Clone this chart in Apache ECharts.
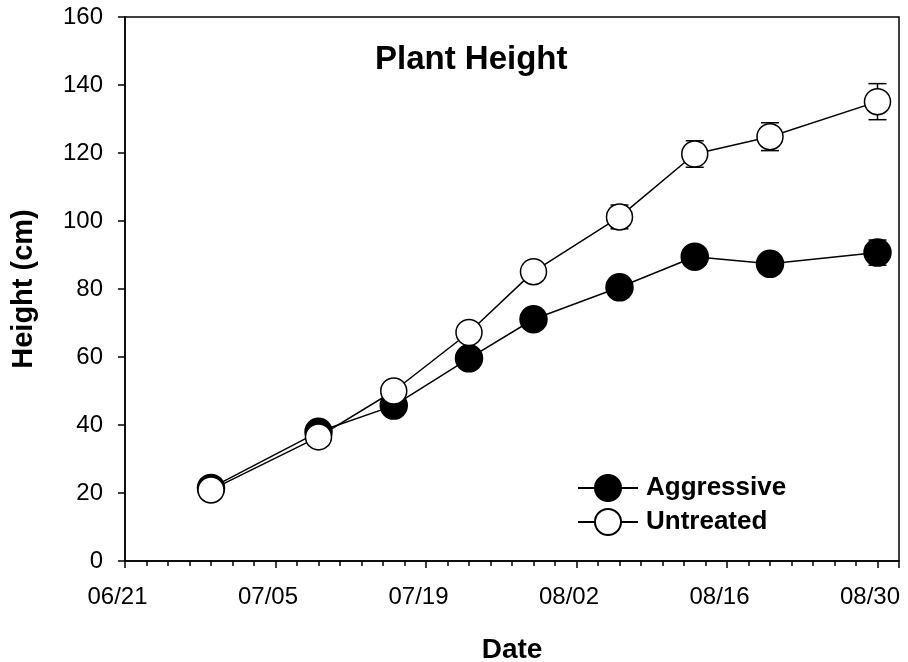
<!DOCTYPE html>
<html>
<head>
<meta charset="utf-8">
<script src="https://cdn.jsdelivr.net/npm/echarts@6/dist/echarts.min.js"></script>
<style>html,body{margin:0;padding:0;background:#fff;}#c{width:908px;height:662px;}</style>
</head>
<body>
<div id="c"></div>
<script>
const startDate = '06/21';
const tickLabels = ['06/21', '07/05', '07/19', '08/02', '08/16', '08/30'];
const dates = ['06/29', '07/09', '07/16', '07/23', '07/29', '08/06', '08/13', '08/20', '08/30'];
const aggressive = [21.5, 38.0, 45.7, 59.6, 71.1, 80.5, 89.5, 87.4, 90.7];
const aggressiveErr = [0.8, 1.0, 1.2, 1.5, 1.5, 1.8, 2.5, 2.0, 3.7];
const untreated = [20.9, 36.5, 50.0, 67.2, 85.1, 101.2, 119.7, 124.8, 135.1];
const untreatedErr = [0.6, 1.0, 1.5, 2.0, 2.5, 3.5, 3.9, 4.1, 5.3];
const yTicks = [0, 20, 40, 60, 80, 100, 120, 140, 160];

function dayOffset(md) {
  const [m, d] = md.split('/').map(Number);
  const [m0, d0] = startDate.split('/').map(Number);
  return (Date.UTC(2001, m - 1, d) - Date.UTC(2001, m0 - 1, d0)) / 86400000;
}
const xs = dates.map(dayOffset);
const aggData = xs.map((x, i) => [x, aggressive[i]]);
const untData = xs.map((x, i) => [x, untreated[i]]);
const aggErrData = xs.map((x, i) => [x, aggressive[i] - aggressiveErr[i], aggressive[i] + aggressiveErr[i]]);
const untErrData = xs.map((x, i) => [x, untreated[i] - untreatedErr[i], untreated[i] + untreatedErr[i]]);

function errRender(params, api) {
  const x = api.value(0);
  const lo = api.coord([x, api.value(1)]);
  const hi = api.coord([x, api.value(2)]);
  const w = 9;
  const st = { stroke: '#000', lineWidth: 1.5, fill: null };
  return {
    type: 'group',
    children: [
      { type: 'line', shape: { x1: lo[0], y1: lo[1], x2: hi[0], y2: hi[1] }, style: st },
      { type: 'line', shape: { x1: lo[0] - w, y1: lo[1], x2: lo[0] + w, y2: lo[1] }, style: st },
      { type: 'line', shape: { x1: hi[0] - w, y1: hi[1], x2: hi[0] + w, y2: hi[1] }, style: st }
    ]
  };
}

const chart = echarts.init(document.getElementById('c'), null, { renderer: 'canvas' });
const font = 'Liberation Sans, Arial, sans-serif';
chart.setOption({
  animation: false,
  backgroundColor: '#fff',
  textStyle: { fontFamily: font },
  title: {
    text: 'Plant Height',
    left: 370, top: 38,
    textStyle: { fontFamily: font, fontWeight: 'bold', fontSize: 33, color: '#000' }
  },
  legend: {
    left: 572, top: 469,
    orient: 'vertical',
    itemWidth: 60, itemHeight: 32.5, itemGap: 6,
    data: ['Aggressive', 'Untreated'],
    textStyle: { fontFamily: font, fontWeight: 'bold', fontSize: 26, color: '#000', padding: [0, 0, 0, 3] }
  },
  grid: {
    left: 125, right: 9, top: 17, bottom: 101,
    containLabel: false, outerBoundsMode: 'none',
    show: true, borderColor: '#000', borderWidth: 1.5
  },
  xAxis: {
    type: 'value', min: 0, max: 72, interval: 14,
    name: 'Date', nameLocation: 'middle', nameGap: 75,
    nameTextStyle: { fontFamily: font, fontWeight: 'bold', fontSize: 28, color: '#000' },
    axisLine: { lineStyle: { color: '#000', width: 1.5 } },
    axisTick: { length: 7, lineStyle: { color: '#000', width: 1.5 } },
    minorTick: { show: true, splitNumber: 7, length: 5, lineStyle: { color: '#000', width: 1.5 } },
    splitLine: { show: false },
    axisLabel: {
      fontFamily: font, fontSize: 24, color: '#000', margin: 24, showMaxLabel: false,
      padding: [0, 15, 0, 0],
      formatter: v => tickLabels[Math.round(v / 14)] || ''
    }
  },
  yAxis: {
    type: 'value', min: 0, max: 160, interval: 20,
    name: 'Height (cm)', nameLocation: 'middle', nameGap: 87,
    nameTextStyle: { fontFamily: font, fontWeight: 'bold', fontSize: 29, color: '#000' },
    axisLine: { show: true, lineStyle: { color: '#000', width: 1.5 } },
    axisTick: { show: true, length: 7, lineStyle: { color: '#000', width: 1.5 } },
    splitLine: { show: false },
    axisLabel: {
      fontFamily: font, fontSize: 24, color: '#000', margin: 22,
      formatter: v => (yTicks.indexOf(v) >= 0 ? String(v) : '')
    }
  },
  series: [
    { type: 'custom', name: 'aggErr', renderItem: errRender, data: aggErrData, z: 1, encode: { x: 0, y: [1, 2] }, silent: true },
    { type: 'custom', name: 'untErr', renderItem: errRender, data: untErrData, z: 1, encode: { x: 0, y: [1, 2] }, silent: true },
    {
      type: 'line', name: 'Aggressive', data: aggData, z: 3,
      symbol: 'circle', symbolSize: 27, showAllSymbol: true,
      lineStyle: { color: '#000', width: 1.5 },
      itemStyle: { color: '#000', borderColor: '#000', borderWidth: 1.5 }
    },
    {
      type: 'line', name: 'Untreated', data: untData, z: 4,
      symbol: 'circle', symbolSize: 26, showAllSymbol: true,
      lineStyle: { color: '#000', width: 1.5 },
      itemStyle: { color: '#fff', borderColor: '#000', borderWidth: 1.5 }
    }
  ]
});
</script>
</body>
</html>
